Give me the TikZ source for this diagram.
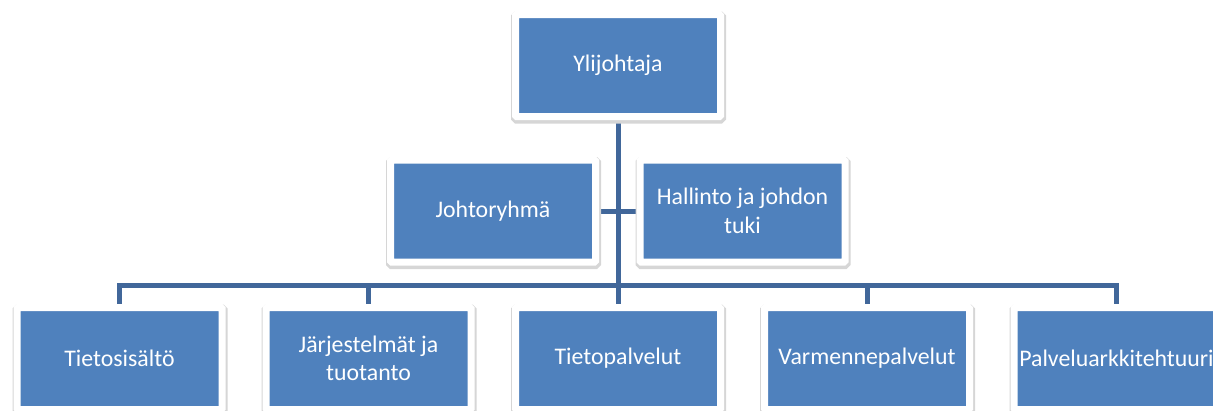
\documentclass[tikz,border=0pt]{standalone}
\usepackage{fontspec}
\setmainfont{Carlito}
\usetikzlibrary{backgrounds}
\definecolor{boxblue}{HTML}{4F81BD}
\definecolor{lineblue}{HTML}{41679A}
\begin{document}
\begin{tikzpicture}[x = 1pt, y = -1pt,
    orgbox/.style = {rectangle, fill = boxblue, draw = white, line width = 7pt,
      rounded corners = 1pt, minimum width = 205pt, minimum height = 102pt,
      text width = 198pt, align = flush center, text = white, inner sep = 0pt,
      font = \fontsize{23.8}{28.5}\selectfont,
      preaction = {draw = black!16, line width = 10pt,
        transform canvas = {shift = {(0.5pt, -2pt)}}}},
    link/.style = {draw = lineblue, line width = 5pt}]
      \useasboundingbox (0, 0) rectangle (1213, 410);
      \node [orgbox] (top) at (618, 65.5) {Ylijohtaja};
      \node [orgbox] (johto) at (493, 211) {Johtoryhmä};
      \node [orgbox] (hallinto) at (742.5, 211) {Hallinto ja johdon\\ tuki};
      \node [orgbox] (sisalto) at (119.5, 358.5) {Tietosisältö};
      \node [orgbox] (jarj) at (368.5, 358.5) {Järjestelmät ja\\ tuotanto};
      \node [orgbox] (tpalv) at (618, 358.5) {Tietopalvelut};
      \node [orgbox] (varm) at (867, 358.5) {Varmennepalvelut};
      \node [orgbox] (arkk) at (1116.5, 358.5) {Palveluarkkitehtuuri};
      \coordinate (bus) at (618, 285);
      \begin{scope}[on background layer]
        \draw [link] (top.south) -- (bus);
        \draw [link] (johto.east) -- (hallinto.west);
        \foreach \n in {sisalto, jarj, tpalv, varm, arkk}
          \draw [link] (bus) -| (\n.north);
      \end{scope}
    \end{tikzpicture}
\end{document}
